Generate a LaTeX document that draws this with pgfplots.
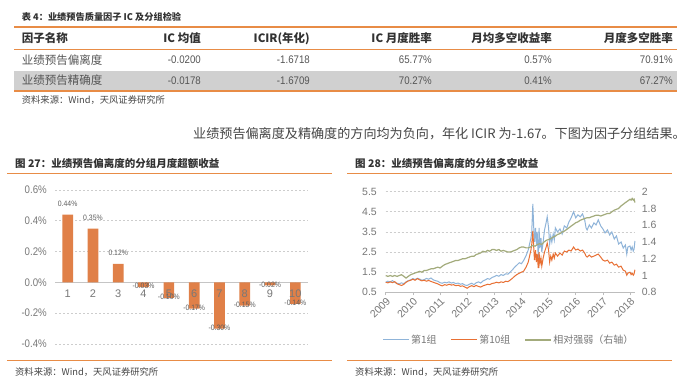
\documentclass[border=0pt]{standalone}
\usepackage{fontspec}
\usepackage{pgfplots}
\pgfplotsset{compat=1.18}
\setmainfont{Liberation Sans}
\newfontfamily\cjk{Noto Sans CJK SC}
\newfontfamily\narrow[FakeStretch=0.88]{Liberation Sans}
\newcommand\fs[1]{\fontsize{#1bp}{#1bp}\selectfont}
\definecolor{rulecol}{RGB}{232,140,70}
\definecolor{bandgray}{RGB}{208,208,208}
\definecolor{titlecol}{RGB}{50,50,50}
\definecolor{bodycol}{RGB}{85,85,85}
\definecolor{paracol}{RGB}{70,70,70}
\definecolor{tickgray}{RGB}{120,120,120}
\definecolor{labgray}{RGB}{95,95,95}
\definecolor{barorange}{RGB}{224,128,72}
\definecolor{gridgray}{RGB}{205,205,205}
\definecolor{lblue}{RGB}{143,180,217}
\definecolor{lorange}{RGB}{232,112,52}
\definecolor{lgreen}{RGB}{163,171,124}
\begin{document}
\begin{tikzpicture}
\path[use as bounding box, fill=white] (0,0) rectangle (677bp,-381bp);
% ---------- table ----------
\node[anchor=west, inner sep=0, text=titlecol] at (21.7bp,-16.7bp) {\cjk\bfseries\fs{9.2}表 4：业绩预告质量因子 IC 及分组检验};
\fill[bandgray] (14bp,-71bp) rectangle (677bp,-90bp);
\draw[rulecol, line width=1.2bp] (14bp,-27bp) -- (677bp,-27bp);
\draw[rulecol, line width=0.8bp] (14bp,-49.5bp) -- (677bp,-49.5bp);
\draw[rulecol, line width=1.2bp] (14bp,-91bp) -- (677bp,-91bp);
\begin{scope}[every node/.style={inner sep=0, text=titlecol, font=\cjk\bfseries\fs{11.5}}]
\node[anchor=west] at (21.7bp,-38.5bp) {因子名称};
\node[anchor=east] at (201bp,-38.5bp) {IC 均值};
\node[anchor=east] at (310bp,-38.5bp) {ICIR(年化)};
\node[anchor=east] at (432bp,-38.5bp) {IC 月度胜率};
\node[anchor=east] at (552bp,-38.5bp) {月均多空收益率};
\node[anchor=east] at (673bp,-38.5bp) {月度多空胜率};
\end{scope}
\begin{scope}[every node/.style={inner sep=0, text=bodycol, font=\narrow\fs{11}}]
\node[anchor=west, font=\cjk\fs{11.5}] at (21.7bp,-60bp) {业绩预告偏离度};
\node[anchor=east] at (201bp,-60bp) {-0.0200};
\node[anchor=east] at (310bp,-60bp) {-1.6718};
\node[anchor=east] at (432bp,-60bp) {65.77\%};
\node[anchor=east] at (552bp,-60bp) {0.57\%};
\node[anchor=east] at (673bp,-60bp) {70.91\%};
\node[anchor=west, font=\cjk\fs{11.5}] at (21.7bp,-80.5bp) {业绩预告精确度};
\node[anchor=east] at (201bp,-80.5bp) {-0.0178};
\node[anchor=east] at (310bp,-80.5bp) {-1.6709};
\node[anchor=east] at (432bp,-80.5bp) {70.27\%};
\node[anchor=east] at (552bp,-80.5bp) {0.41\%};
\node[anchor=east] at (673bp,-80.5bp) {67.27\%};
\end{scope}
\node[anchor=west, inner sep=0, text=paracol] at (21.7bp,-100.5bp) {\cjk\fs{9.3}资料来源：Wind，天风证券研究所};
% ---------- paragraph ----------
\node[anchor=west, inner sep=0, text=paracol] at (193bp,-133.3bp) {\cjk\fs{13.1}业绩预告偏离度及精确度的方向均为负向，年化 ICIR 为-1.67。下图为因子分组结果。};
% ---------- chart titles & rules ----------
\node[anchor=west, inner sep=0, text=titlecol] at (15bp,-163bp) {\cjk\bfseries\fs{10.5}图 27：业绩预告偏离度的分组月度超额收益};
\node[anchor=west, inner sep=0, text=titlecol] at (355bp,-163bp) {\cjk\bfseries\fs{10.5}图 28：业绩预告偏离度的分组多空收益};
\draw[rulecol, line width=1bp] (7bp,-173bp) -- (332bp,-173bp);
\draw[rulecol, line width=1bp] (347bp,-173bp) -- (672bp,-173bp);
\draw[rulecol, line width=1bp] (7bp,-360.7bp) -- (332bp,-360.7bp);
\draw[rulecol, line width=1bp] (347bp,-360.7bp) -- (672bp,-360.7bp);
\node[anchor=west, inner sep=0, text=paracol] at (15bp,-371.7bp) {\cjk\fs{9.3}资料来源：Wind，天风证券研究所};
\node[anchor=west, inner sep=0, text=paracol] at (355bp,-371.7bp) {\cjk\fs{9.3}资料来源：Wind，天风证券研究所};
% ---------- left bar chart ----------
\begin{axis}[at={(55bp,-344bp)}, anchor=south west, scale only axis,
  width=253bp, height=154bp, xmin=0.5, xmax=10.5, ymin=-0.4, ymax=0.6,
  ytick={-0.4,-0.2,0,0.2,0.4,0.6},
  yticklabels={-0.4\%,-0.2\%,0.0\%,0.2\%,0.4\%,0.6\%},
  xtick=\empty,
  axis line style={draw=none}, major tick length=0pt,
  ymajorgrids, grid style={gridgray, dash pattern=on 2bp off 2bp, line width=0.7bp},
  yticklabel style={font=\narrow\fs{11}, text=tickgray, inner sep=0pt, xshift=-8bp},
  clip=false]
\addplot[gridgray!90!gray, line width=0.9bp] coordinates {(0.5,0) (10.5,0)};
\addplot[ybar, bar width=10.7bp, bar shift=0pt, fill=barorange, draw=none,
  nodes near coords, point meta=explicit symbolic,
  nodes near coords style={font=\narrow\fs{7.8}, text=labgray, yshift=4.5bp}]
  coordinates {(1,0.44)[0.44\%] (2,0.35)[0.35\%] (3,0.12)[0.12\%]};
\addplot[ybar, bar width=10.7bp, bar shift=0pt, fill=barorange, draw=none,
  nodes near coords, point meta=explicit symbolic,
  nodes near coords style={font=\narrow\fs{7.8}, text=labgray, yshift=-5.5bp}]
  coordinates {(4,-0.03)[-0.03\%] (5,-0.10)[-0.10\%] (6,-0.17)[-0.17\%] (7,-0.30)[-0.30\%] (8,-0.15)[-0.15\%] (9,-0.02)[-0.02\%] (10,-0.14)[-0.14\%]};
% category labels drawn on top of the bars
\addplot[scatter, only marks, mark=*, mark size=0pt, draw=none, fill=none,
  point meta=explicit symbolic,
  scatter/@pre marker code/.code={\node[anchor=center, inner sep=0pt, font=\fs{11}, text=tickgray] at (0bp,-11bp) {\pgfplotspointmeta};},
  scatter/@post marker code/.code={}]
  coordinates {(1,0)[1] (2,0)[2] (3,0)[3] (4,0)[4] (5,0)[5] (6,0)[6] (7,0)[7] (8,0)[8] (9,0)[9] (10,0)[10]};
\end{axis}
% ---------- right line chart ----------
\begin{axis}[at={(385.7bp,-292.3bp)}, anchor=south west, scale only axis,
  width=249.2bp, height=100.6bp, xmin=2009, xmax=2018.18, ymin=0.5, ymax=5.5,
  axis lines*=left, y axis line style={draw=none},
  x axis line style={gridgray!80!gray, line width=0.8bp},
  xtick={2009,2010,2011,2012,2013,2014,2015,2016,2017,2018},
  xticklabels={2009,2010,2011,2012,2013,2014,2015,2016,2017,2018},
  xticklabel style={rotate=45, anchor=north east, inner sep=1bp, font=\fs{10.5}, text=tickgray},
  xtick style={gridgray!80!gray, line width=0.6bp}, major tick length=3bp, tick align=outside,
  ytick={0.5,1.5,2.5,3.5,4.5,5.5}, yticklabels={0.5,1.5,2.5,3.5,4.5,5.5},
  ytick style={draw=none},
  yticklabel style={font=\fs{10.5}, text=tickgray, inner sep=0pt, xshift=-5.7bp},
  ymajorgrids, grid style={gridgray, dash pattern=on 2bp off 2bp, line width=0.7bp},
  legend columns=3,
  legend style={at={(axis description cs:-0.0136,-0.474)}, anchor=west, draw=none, fill=none,
    inner sep=0pt, font=\cjk\fs{10}, text=tickgray, nodes={inner sep=1.5bp},
    /tikz/every even column/.append style={column sep=12.8bp}},
  legend image code/.code={\draw[#1] (0bp,0bp) -- (26bp,0bp);},
  legend cell align=left, clip=false]
\addplot[lblue, line width=1bp] coordinates {
(2009.00,1.00) (2009.08,1.05) (2009.17,1.02) (2009.25,1.08) (2009.33,1.00) (2009.42,0.95)
(2009.50,0.92) (2009.58,0.97) (2009.67,0.93) (2009.75,1.02) (2009.83,1.08) (2009.92,1.12)
(2010.00,1.18) (2010.08,1.14) (2010.17,1.20) (2010.25,1.16) (2010.33,1.10) (2010.42,1.13)
(2010.50,1.19) (2010.58,1.15) (2010.67,1.21) (2010.75,1.12) (2010.83,1.08) (2010.92,1.05)
(2011.00,0.98) (2011.08,0.95) (2011.17,1.00) (2011.25,0.97) (2011.33,1.02) (2011.42,0.96)
(2011.50,0.99) (2011.58,0.93) (2011.67,0.96) (2011.75,0.90) (2011.83,0.93) (2011.92,0.86)
(2012.00,0.84) (2012.08,0.90) (2012.17,0.95) (2012.25,0.88) (2012.33,0.97) (2012.42,1.02)
(2012.50,0.96) (2012.58,1.06) (2012.67,1.12) (2012.75,1.18) (2012.83,1.15) (2012.92,1.24)
(2013.00,1.28) (2013.08,1.34) (2013.17,1.30) (2013.25,1.38) (2013.33,1.34) (2013.42,1.42)
(2013.50,1.40) (2013.58,1.50) (2013.67,1.62) (2013.75,1.75) (2013.83,1.85) (2013.92,1.97)
(2014.00,1.92) (2014.08,2.08) (2014.17,2.32) (2014.25,2.60) (2014.30,2.90) (2014.35,3.20)
(2014.38,3.50) (2014.42,4.90) (2014.45,3.80) (2014.48,3.00) (2014.52,3.70) (2014.55,2.90)
(2014.58,3.50) (2014.62,2.20) (2014.65,3.70) (2014.68,2.70) (2014.72,3.20) (2014.75,2.50)
(2014.80,3.00) (2014.85,3.60) (2014.90,3.90) (2014.95,4.25) (2015.00,3.70) (2015.04,2.90)
(2015.08,3.30) (2015.12,3.00) (2015.17,3.40) (2015.21,3.10) (2015.25,3.70) (2015.33,3.50)
(2015.42,3.65) (2015.50,3.40) (2015.58,3.80) (2015.67,3.70) (2015.75,4.00) (2015.83,4.20)
(2015.92,4.50) (2016.00,4.20) (2016.08,4.35) (2016.17,4.25) (2016.25,4.40) (2016.33,4.10)
(2016.38,3.70) (2016.42,3.60) (2016.50,3.85) (2016.58,3.70) (2016.67,3.95) (2016.75,3.85)
(2016.83,4.10) (2016.92,3.80) (2017.00,3.65) (2017.08,3.45) (2017.17,3.60) (2017.25,3.35)
(2017.33,3.50) (2017.42,3.15) (2017.50,3.30) (2017.58,2.90) (2017.67,3.00) (2017.75,2.70)
(2017.83,2.85) (2017.88,2.40) (2017.92,2.75) (2018.00,2.80) (2018.04,2.60) (2018.08,2.75)
(2018.12,2.55) (2018.15,2.65) (2018.18,3.05)};
\addlegendentry{第1组}
\addplot[lorange, line width=1bp] coordinates {
(2009.00,1.00) (2009.08,0.97) (2009.17,1.02) (2009.25,0.98) (2009.33,1.03) (2009.42,0.92)
(2009.50,0.88) (2009.58,0.84) (2009.67,0.90) (2009.75,1.00) (2009.83,1.06) (2009.92,1.10)
(2010.00,1.15) (2010.08,1.10) (2010.17,1.18) (2010.25,1.12) (2010.33,1.07) (2010.42,1.10)
(2010.50,1.05) (2010.58,1.09) (2010.67,1.04) (2010.75,1.00) (2010.83,0.96) (2010.92,0.92)
(2011.00,0.86) (2011.08,0.82) (2011.17,0.88) (2011.25,0.85) (2011.33,0.90) (2011.42,0.86)
(2011.50,0.88) (2011.58,0.83) (2011.67,0.85) (2011.75,0.80) (2011.83,0.82) (2011.92,0.76)
(2012.00,0.70) (2012.08,0.78) (2012.17,0.83) (2012.25,0.78) (2012.33,0.84) (2012.42,0.79)
(2012.50,0.76) (2012.58,0.82) (2012.67,0.86) (2012.75,0.90) (2012.83,0.88) (2012.92,0.94)
(2013.00,0.96) (2013.08,1.00) (2013.17,0.97) (2013.25,1.02) (2013.33,0.99) (2013.42,1.05)
(2013.50,1.03) (2013.58,1.10) (2013.67,1.20) (2013.75,1.30) (2013.83,1.38) (2013.92,1.45)
(2014.00,1.50) (2014.08,1.55) (2014.17,1.75) (2014.25,2.00) (2014.30,2.30) (2014.35,2.60)
(2014.38,2.90) (2014.42,3.55) (2014.45,2.80) (2014.48,2.10) (2014.52,2.60) (2014.55,2.00)
(2014.58,2.40) (2014.62,1.70) (2014.65,2.50) (2014.68,1.90) (2014.72,2.20) (2014.75,1.80)
(2014.80,2.20) (2014.85,2.50) (2014.90,2.70) (2014.95,2.95) (2015.00,2.60) (2015.04,2.00)
(2015.08,2.30) (2015.12,2.10) (2015.17,2.40) (2015.21,2.20) (2015.25,2.45) (2015.33,2.30)
(2015.42,2.45) (2015.50,2.35) (2015.58,2.55) (2015.67,2.50) (2015.75,2.60) (2015.83,2.55)
(2015.92,2.75) (2016.00,2.60) (2016.08,2.65) (2016.17,2.55) (2016.25,2.60) (2016.33,2.45)
(2016.38,2.30) (2016.42,2.25) (2016.50,2.35) (2016.58,2.25) (2016.67,2.30) (2016.75,2.35)
(2016.83,2.40) (2016.92,2.25) (2017.00,2.10) (2017.08,2.05) (2017.17,2.10) (2017.25,1.95)
(2017.33,2.00) (2017.42,1.85) (2017.50,1.90) (2017.58,1.75) (2017.67,1.80) (2017.75,1.60)
(2017.83,1.55) (2017.88,1.35) (2017.92,1.45) (2018.00,1.50) (2018.04,1.38) (2018.08,1.45)
(2018.12,1.35) (2018.15,1.42) (2018.18,1.62)};
\addlegendentry{第10组}
\addlegendimage{lgreen, line width=1.2bp}
\addlegendentry{相对强弱（右轴）}
\end{axis}
\begin{axis}[at={(385.7bp,-292.3bp)}, anchor=south west, scale only axis,
  width=249.2bp, height=100.6bp, xmin=2009, xmax=2018.18, ymin=0.8, ymax=2,
  axis x line=none, axis y line*=right, y axis line style={draw=none},
  ytick={0.8,1,1.2,1.4,1.6,1.8,2}, yticklabels={0.8,1,1.2,1.4,1.6,1.8,2},
  ytick style={draw=none}, major tick length=0pt,
  yticklabel style={font=\fs{10.5}, text=tickgray, inner sep=0pt, anchor=west, xshift=6.8bp},
  clip=false]
\addplot[lgreen, line width=1.2bp] coordinates {
(2009.00,1.00) (2009.08,0.99) (2009.17,1.00) (2009.25,0.99) (2009.33,1.00) (2009.42,0.99)
(2009.50,1.00) (2009.58,1.01) (2009.67,0.99) (2009.75,0.97) (2009.83,0.99) (2009.92,1.01)
(2010.00,1.02) (2010.08,1.03) (2010.17,1.04) (2010.25,1.05) (2010.33,1.04) (2010.42,1.06)
(2010.50,1.06) (2010.58,1.07) (2010.67,1.08) (2010.75,1.08) (2010.83,1.09) (2010.92,1.10)
(2011.00,1.09) (2011.08,1.11) (2011.17,1.13) (2011.25,1.14) (2011.33,1.15) (2011.42,1.16)
(2011.50,1.17) (2011.58,1.18) (2011.67,1.18) (2011.75,1.19) (2011.83,1.20) (2011.92,1.20)
(2012.00,1.21) (2012.08,1.22) (2012.17,1.23) (2012.25,1.23) (2012.33,1.25) (2012.42,1.26)
(2012.50,1.27) (2012.58,1.29) (2012.67,1.28) (2012.75,1.30) (2012.83,1.29) (2012.92,1.31)
(2013.00,1.31) (2013.08,1.30) (2013.17,1.31) (2013.25,1.29) (2013.33,1.30) (2013.42,1.29)
(2013.50,1.28) (2013.58,1.28) (2013.67,1.29) (2013.75,1.30) (2013.83,1.31) (2013.92,1.33)
(2014.00,1.34) (2014.08,1.34) (2014.17,1.33) (2014.25,1.33) (2014.33,1.34) (2014.42,1.36)
(2014.50,1.35) (2014.58,1.37) (2014.67,1.38) (2014.75,1.37) (2014.83,1.40) (2014.92,1.42)
(2015.00,1.43) (2015.08,1.44) (2015.17,1.46) (2015.25,1.47) (2015.33,1.49) (2015.42,1.50)
(2015.50,1.52) (2015.58,1.53) (2015.67,1.55) (2015.75,1.57) (2015.83,1.59) (2015.92,1.61)
(2016.00,1.63) (2016.08,1.64) (2016.17,1.66) (2016.25,1.67) (2016.33,1.68) (2016.42,1.69)
(2016.50,1.69) (2016.58,1.70) (2016.67,1.71) (2016.75,1.72) (2016.83,1.72) (2016.92,1.71)
(2017.00,1.72) (2017.08,1.73) (2017.17,1.74) (2017.25,1.74) (2017.33,1.76) (2017.42,1.78)
(2017.50,1.79) (2017.58,1.80) (2017.67,1.83) (2017.75,1.85) (2017.83,1.87) (2017.92,1.89)
(2018.00,1.91) (2018.04,1.90) (2018.08,1.92) (2018.12,1.90) (2018.15,1.91) (2018.18,1.87)};
\end{axis}
\end{tikzpicture}
\end{document}
